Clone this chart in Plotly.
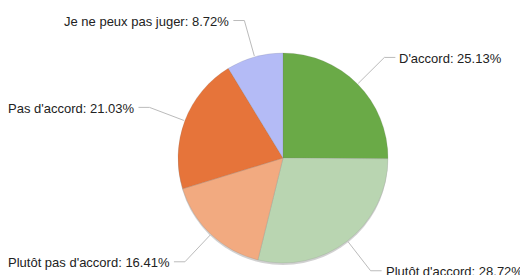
import math
import plotly.graph_objects as go

labels = ["D'accord", "Plutôt d'accord", "Plutôt pas d'accord", "Pas d'accord", "Je ne peux pas juger"]
values = [25.13, 28.72, 16.41, 21.03, 8.72]
colors = ["#6aaa47", "#b9d5b1", "#f2aa80", "#e6743a", "#b4bbf6"]

W, H = 520, 275
CX, CY, R = 283, 158, 105


def px(x):
    return x / W


def py(y):
    return 1 - y / H


fig = go.Figure()
fig.add_trace(go.Pie(
    labels=labels, values=values, sort=False, direction="clockwise", rotation=0,
    marker=dict(colors=colors, line=dict(color="rgba(120,120,120,0.35)", width=0.5)),
    textinfo="none", hoverinfo="label+percent", showlegend=False,
    domain=dict(x=[px(CX - R), px(CX + R)], y=[py(CY + R), py(CY - R)]),
))

shapes = [dict(type="circle", xref="paper", yref="paper", layer="below",
               x0=px(CX - R), x1=px(CX + R), y0=py(CY + R + 2), y1=py(CY - R + 2),
               fillcolor="rgba(0,0,0,0.18)", line=dict(width=0))]
annotations = []
total = sum(values)
cum = 0
for lab, v in zip(labels, values):
    mid = (cum + v / 2) / total * 2 * math.pi
    cum += v
    sx, sy = math.sin(mid), -math.cos(mid)
    x0, y0 = CX + (R + 1) * sx, CY + (R + 1) * sy
    x1, y1 = CX + R * 1.36 * sx, CY + R * 1.36 * sy
    right = sx > 0
    x2 = x1 + (11 if right else -11)
    shapes.append(dict(type="path", xref="paper", yref="paper",
                       path=f"M {px(x0)},{py(y0)} L {px(x1)},{py(y1)} L {px(x2)},{py(y1)}",
                       line=dict(color="#bbbbbb", width=1)))
    annotations.append(dict(xref="paper", yref="paper", x=px(x2 + (2 if right else -2)), y=py(y1 + 1),
                            text=f"{lab}: {v:.2f}%", showarrow=False,
                            xanchor="left" if right else "right", yanchor="middle",
                            font=dict(family="Liberation Sans, Arial, sans-serif", size=13, color="#222222")))

fig.update_layout(width=W, height=H, margin=dict(l=0, r=0, t=0, b=0),
                  paper_bgcolor="white", plot_bgcolor="white",
                  shapes=shapes, annotations=annotations)
fig.write_html("out.html", config={"displayModeBar": False},
               post_script="document.body.style.margin='0';")
